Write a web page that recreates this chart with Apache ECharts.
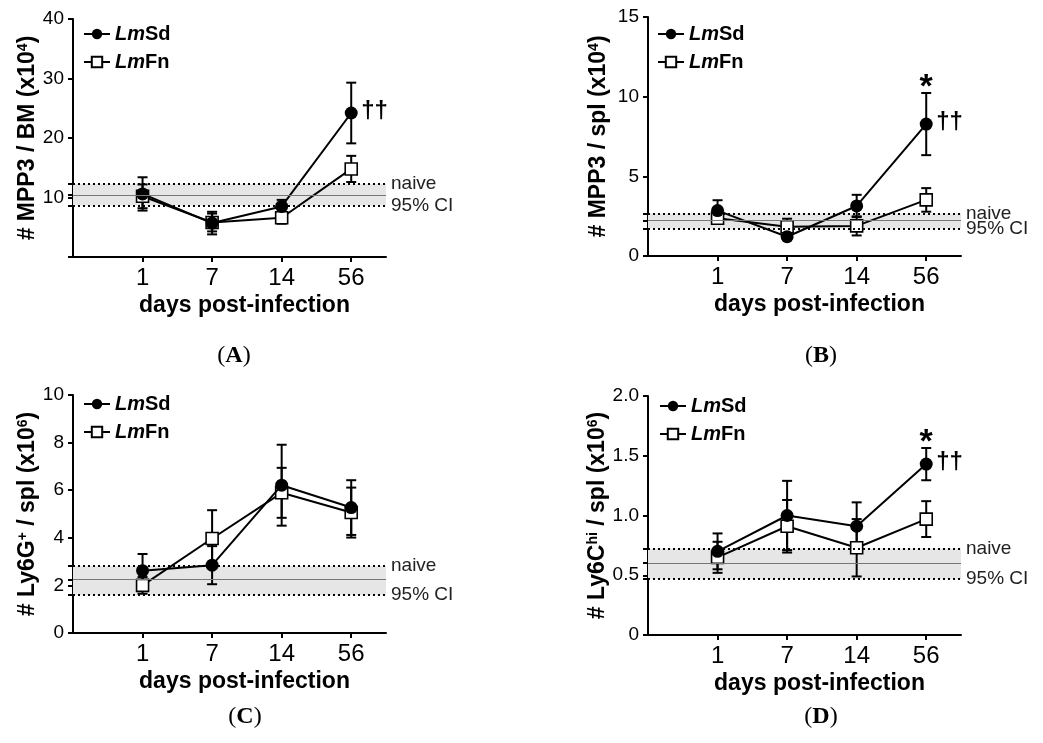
<!DOCTYPE html>
<html>
<head>
<meta charset="utf-8">
<script src="https://cdn.jsdelivr.net/npm/echarts@6/dist/echarts.min.js"></script>
<style>
html,body{margin:0;padding:0;background:#fff;}
#chart{width:1043px;height:743px;}
</style>
</head>
<body>
<div id="chart"></div>
<script>
// ---------- DATA ----------
const days = ['1', '7', '14', '56'];
const seriesNames = ['LmSd', 'LmFn'];
const bandLabels = ['95% CI', '', 'naive'];   // lower, mean, upper
const xTitle = 'days post-infection';

// Panel A: MPP3 / BM
const aSd = [10.6, 5.7, 8.5, 24.2];
const aSdErr = [2.8, 1.9, 1.1, 5.1];
const aFn = [10.2, 5.8, 6.6, 14.8];
const aFnErr = [2.0, 1.5, 1.0, 2.2];
const aNaive = [8.66, 10.45, 12.25];
const aYTicks = [0, 10, 20, 30, 40];
const aYLabels = ['', '10', '20', '30', '40'];
const aStar = ['', '', '', ''];
const aDagger = ['', '', '', '††'];
const aTitle = '# MPP3 / BM (x10^{4})';

// Panel B: MPP3 / spl
const bSd = [2.85, 1.21, 3.14, 8.28];
const bSdErr = [0.65, 0.15, 0.7, 1.95];
const bFn = [2.37, 1.84, 1.89, 3.52];
const bFnErr = [0.3, 0.5, 0.6, 0.74];
const bNaive = [1.72, 2.22, 2.66];
const bYTicks = [0, 5, 10, 15];
const bYLabels = ['0', '5', '10', '15'];
const bStar = ['', '', '', '*'];
const bDagger = ['', '', '', '††'];
const bTitle = '# MPP3 / spl (x10^{4})';

// Panel C: Ly6G+ / spl
const cSd = [2.62, 2.85, 6.21, 5.27];
const cSdErr = [0.7, 0.8, 1.7, 1.15];
const cFn = [2.0, 3.97, 5.89, 5.06];
const cFnErr = [0.35, 1.19, 1.05, 1.05];
const cNaive = [1.59, 2.25, 2.82];
const cYTicks = [0, 2, 4, 6, 8, 10];
const cYLabels = ['0', '2', '4', '6', '8', '10'];
const cStar = ['', '', '', ''];
const cDagger = ['', '', '', ''];
const cTitle = '# Ly6G^{+} / spl (x10^{6})';

// Panel D: Ly6Chi / spl
const dSd = [0.70, 1.00, 0.91, 1.43];
const dSdErr = [0.15, 0.29, 0.2, 0.135];
const dFn = [0.65, 0.91, 0.73, 0.97];
const dFnErr = [0.13, 0.22, 0.24, 0.15];
const dNaive = [0.468, 0.604, 0.724];
const dYTicks = [0, 0.5, 1.0, 1.5, 2.0];
const dYLabels = ['0', '0.5', '1.0', '1.5', '2.0'];
const dStar = ['', '', '', '*'];
const dDagger = ['', '', '', '††'];
const dTitle = '# Ly6C^{hi} / spl (x10^{6})';

// ---------- LAYOUT / STYLE ----------
const FONT = "'Liberation Sans', Arial, Helvetica, sans-serif";
const SERIF = "'Liberation Serif', 'Times New Roman', serif";

const panels = [
  {label: 'A', grid: {left: 73, top: 19, width: 313, height: 238}, ticks: aYTicks, labels: aYLabels,
   sd: aSd, sdErr: aSdErr, fn: aFn, fnErr: aFnErr, naive: aNaive, star: aStar, dagger: aDagger,
   title: aTitle, nameGap: 34, legend: {left: 78, top: 19}, labelPos: [234, 356]},
  {label: 'B', grid: {left: 648, top: 17, width: 313, height: 239}, ticks: bYTicks, labels: bYLabels,
   sd: bSd, sdErr: bSdErr, fn: bFn, fnErr: bFnErr, naive: bNaive, star: bStar, dagger: bDagger,
   title: bTitle, nameGap: 38, legend: {left: 652, top: 19}, labelPos: [821, 356]},
  {label: 'C', grid: {left: 73, top: 395, width: 313, height: 238}, ticks: cYTicks, labels: cYLabels,
   sd: cSd, sdErr: cSdErr, fn: cFn, fnErr: cFnErr, naive: cNaive, star: cStar, dagger: cDagger,
   title: cTitle, nameGap: 34, legend: {left: 78, top: 389}, labelPos: [245, 717]},
  {label: 'D', grid: {left: 648, top: 396, width: 313, height: 239}, ticks: dYTicks, labels: dYLabels,
   sd: dSd, sdErr: dSdErr, fn: dFn, fnErr: dFnErr, naive: dNaive, star: dStar, dagger: dDagger,
   title: dTitle, nameGap: 38, legend: {left: 654, top: 391}, labelPos: [821, 717]}
];

function richTitle(s) {
  return '{t|' + s.replace(/\^\{([^}]*)\}/g, '}{s|$1}{t|') + '}';
}

function lookupLabel(ticks, labels, v) {
  for (let i = 0; i < ticks.length; i++) if (Math.abs(ticks[i] - v) < 1e-9) return labels[i];
  return '';
}

const grids = [], xAxes = [], yAxes = [], series = [], legends = [], graphics = [];

function errorSeries(idx, means, errs, stars, daggers, z) {
  return {
    type: 'custom', xAxisIndex: idx, yAxisIndex: idx, z: z, silent: true,
    encode: {x: 0, y: 1},
    data: means.map((m, i) => [i + 1, m, errs[i]]),
    renderItem: function (params, api) {
      const x = api.value(0), m = api.value(1), e = api.value(2);
      const top = api.coord([x, m + e]);
      const bot = api.coord([x, m - e]);
      const pt = api.coord([x, m]);
      const cw = 5;
      const st = {stroke: '#000', lineWidth: 2};
      const children = [
        {type: 'line', shape: {x1: top[0], y1: top[1], x2: bot[0], y2: bot[1]}, style: st},
        {type: 'line', shape: {x1: top[0] - cw, y1: top[1], x2: top[0] + cw, y2: top[1]}, style: st},
        {type: 'line', shape: {x1: bot[0] - cw, y1: bot[1], x2: bot[0] + cw, y2: bot[1]}, style: st}
      ];
      const s = stars[params.dataIndex];
      if (s) {
        children.push({type: 'text', x: top[0], y: top[1] + 12,
          style: {text: s, fontSize: 34, fontWeight: 'bold', fontFamily: FONT, fill: '#000',
                  align: 'center', verticalAlign: 'bottom'}});
      }
      const d = daggers[params.dataIndex];
      if (d) {
        children.push({type: 'text', x: pt[0] + 10, y: pt[1] - 2,
          style: {text: d, fontSize: 24, fontWeight: 'bold', fontFamily: FONT, fill: '#000',
                  align: 'left', verticalAlign: 'middle'}});
      }
      return {type: 'group', children: children};
    }
  };
}

panels.forEach((p, i) => {
  grids.push(Object.assign({containLabel: false}, p.grid));
  xAxes.push({
    type: 'value', gridIndex: i, min: 0, max: 4.5,
    axisLine: {show: true, lineStyle: {color: '#000', width: 2}},
    axisTick: {show: true, length: 5, lineStyle: {color: '#000', width: 2}, customValues: [1, 2, 3, 4]},
    axisLabel: {show: true, customValues: [1, 2, 3, 4], margin: 9, color: '#000',
                fontSize: 24, fontFamily: FONT, formatter: v => days[Math.round(v) - 1]},
    splitLine: {show: false},
    name: xTitle, nameLocation: 'middle', nameGap: 37,
    nameTextStyle: {fontSize: 23, fontWeight: 'bold', fontFamily: FONT, color: '#000', padding: [0, 0, 0, 30]}
  });
  const yMax = p.ticks[p.ticks.length - 1];
  yAxes.push({
    type: 'value', gridIndex: i, min: 0, max: yMax,
    axisLine: {show: true, lineStyle: {color: '#000', width: 2}},
    axisTick: {show: true, length: 5, lineStyle: {color: '#000', width: 2},
               customValues: p.ticks.concat(p.naive)},
    axisLabel: {show: true, customValues: p.ticks, margin: 9, color: '#000', fontSize: 19, fontFamily: FONT,
                formatter: v => lookupLabel(p.ticks, p.labels, v)},
    splitLine: {show: false},
    name: richTitle(p.title), nameLocation: 'middle', nameGap: p.nameGap, nameRotate: 90,
    nameTextStyle: {
      rich: {
        t: {fontSize: 23, fontWeight: 'bold', fontFamily: FONT, color: '#000'},
        s: {fontSize: 14, fontWeight: 'bold', fontFamily: FONT, color: '#000', verticalAlign: 'top'}
      }
    }
  });

  // naive band
  series.push({
    type: 'line', xAxisIndex: i, yAxisIndex: i, data: [], z: 1, silent: true,
    markArea: {silent: true, itemStyle: {color: '#e6e6e6'},
      data: [[{yAxis: p.naive[0]}, {yAxis: p.naive[2]}]]},
    markLine: {silent: true, symbol: 'none', animation: false,
      data: p.naive.map((v, k) => ({
        yAxis: v,
        lineStyle: k === 1 ? {type: 'solid', color: '#777', width: 1.2}
                           : {type: [2, 3], color: '#000', width: 2},
        label: {show: !!bandLabels[k], position: 'end', distance: 5, formatter: bandLabels[k],
                fontSize: 19, fontFamily: FONT, color: '#222'}
      }))}
  });

  // error bars
  series.push(errorSeries(i, p.fn, p.fnErr, ['', '', '', ''], ['', '', '', ''], 2));
  series.push(errorSeries(i, p.sd, p.sdErr, p.star, p.dagger, 2));

  // lines
  series.push({
    name: seriesNames[1], type: 'line', xAxisIndex: i, yAxisIndex: i, z: 3,
    data: p.fn.map((v, k) => [k + 1, v]),
    symbol: 'rect', symbolSize: 12,
    itemStyle: {color: '#fff', borderColor: '#000', borderWidth: 1.6},
    lineStyle: {color: '#000', width: 2}
  });
  series.push({
    name: seriesNames[0], type: 'line', xAxisIndex: i, yAxisIndex: i, z: 4,
    data: p.sd.map((v, k) => [k + 1, v]),
    symbol: 'circle', symbolSize: 13,
    itemStyle: {color: '#000'},
    lineStyle: {color: '#000', width: 2}
  });

  legends.push({
    left: p.legend.left, top: p.legend.top, orient: 'vertical',
    data: seriesNames, selectedMode: false, itemWidth: 26, itemHeight: 13, itemGap: 8,
    formatter: n => '{i|' + n.slice(0, 2) + '}{b|' + n.slice(2) + '}',
    textStyle: {
      rich: {
        i: {fontSize: 20, fontStyle: 'italic', fontWeight: 'bold', fontFamily: FONT, color: '#000'},
        b: {fontSize: 20, fontWeight: 'bold', fontFamily: FONT, color: '#000'}
      }
    }
  });

  graphics.push({
    type: 'text', x: p.labelPos[0], y: p.labelPos[1],
    style: {
      text: '{p|(}{b|' + p.label + '}{p|)}', align: 'center', verticalAlign: 'middle',
      rich: {
        p: {fontSize: 24, fontFamily: SERIF, color: '#000'},
        b: {fontSize: 24, fontFamily: SERIF, fontWeight: 'bold', color: '#000'}
      }
    }
  });
});

const chart = echarts.init(document.getElementById('chart'), null, {renderer: 'canvas'});
chart.setOption({
  animation: false,
  backgroundColor: '#fff',
  grid: grids,
  xAxis: xAxes,
  yAxis: yAxes,
  legend: legends,
  series: series,
  graphic: graphics
});
</script>
</body>
</html>
